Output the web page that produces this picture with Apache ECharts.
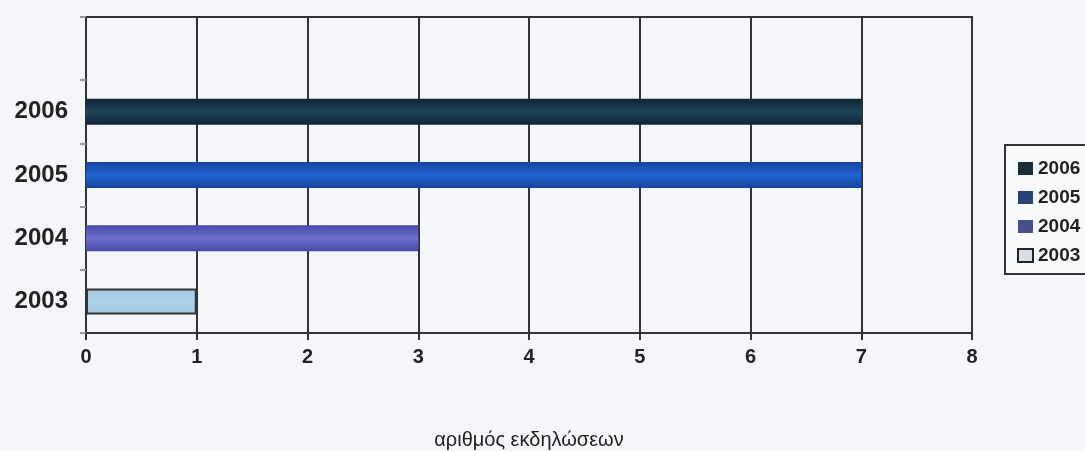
<!DOCTYPE html>
<html>
<head>
<meta charset="utf-8">
<script src="https://cdn.jsdelivr.net/npm/echarts@6/dist/echarts.min.js"></script>
<style>html,body{margin:0;padding:0;background:#f5f6f9;}#c{width:1085px;height:451px;}</style>
</head>
<body>
<div id="c"></div>
<script>
const categories = ['2003', '2004', '2005', '2006', ''];
const years = ['2006', '2005', '2004', '2003'];
const values = [7, 7, 3, 1];
const xTicks = [0, 1, 2, 3, 4, 5, 6, 7, 8];
const axisTitle = 'αριθμός εκδηλώσεων';

const barColors = {
  '2006': ['#0f2434', '#1f4459', '#0f2434'],
  '2005': ['#1544a0', '#2163cf', '#1544a0'],
  '2004': ['#4848a6', '#6e6ecf', '#4848a6'],
  '2003': ['#a4c8e2', '#aed2ea', '#a4c8e2']
};
const legendColors = {'2006': '#1a2b3a', '2005': '#2b4372', '2004': '#474f8c', '2003': '#d9dde5'};

function grad(c) {
  return new echarts.graphic.LinearGradient(0, 0, 0, 1, [
    {offset: 0, color: c[0]}, {offset: 0.5, color: c[1]}, {offset: 1, color: c[2]}
  ]);
}

const series = years.map((y, i) => {
  const data = categories.map(c => (c === y ? values[i] : '-'));
  return {
    name: y,
    type: 'bar',
    stack: 'all',
    barWidth: 26,
    data: data,
    itemStyle: {
      color: grad(barColors[y]),
      borderColor: y === '2003' ? '#333' : 'transparent',
      borderWidth: y === '2003' ? 2 : 0
    },
    emphasis: {disabled: true}
  };
});

const chart = echarts.init(document.getElementById('c'));
chart.setOption({
  backgroundColor: '#f5f6f9',
  animation: false,
  grid: {left: 86, right: 113, top: 17, bottom: 118, outerBoundsMode: 'none', containLabel: false, show: true, borderColor: '#333', borderWidth: 2, backgroundColor: 'transparent'},
  legend: {
    orient: 'vertical',
    left: 1005,
    top: 145,
    padding: [14, 30, 9, 12],
    itemGap: 10,
    itemWidth: 15,
    itemHeight: 13,
    borderColor: '#333',
    borderWidth: 2,
    backgroundColor: '#f8f9fb',
    textStyle: {fontFamily: 'Liberation Sans, Arial, sans-serif', fontWeight: 'bold', fontSize: 19, color: '#222'},
    data: years.map(y => ({
      name: y,
      icon: 'rect',
      itemStyle: {color: legendColors[y], borderColor: y === '2003' ? '#222' : legendColors[y], borderWidth: y === '2003' ? 2 : 0}
    }))
  },
  xAxis: {
    type: 'value',
    min: xTicks[0],
    max: xTicks[xTicks.length - 1],
    interval: 1,
    name: axisTitle,
    nameLocation: 'middle',
    nameGap: 97,
    nameTextStyle: {fontFamily: 'Liberation Sans, Arial, sans-serif', fontSize: 20, color: '#222'},
    axisLine: {show: true, lineStyle: {color: '#333', width: 2}},
    axisTick: {show: true, length: 7, lineStyle: {color: '#333', width: 2}},
    axisLabel: {fontFamily: 'Liberation Sans, Arial, sans-serif', fontWeight: 'bold', fontSize: 20, color: '#222', margin: 14},
    splitLine: {show: true, lineStyle: {color: '#333', width: 2}}
  },
  yAxis: {
    type: 'category',
    data: categories,
    axisLine: {show: true, lineStyle: {color: '#333', width: 2}},
    axisTick: {show: true, length: 6, lineStyle: {color: '#999', width: 2}},
    axisLabel: {fontFamily: 'Liberation Sans, Arial, sans-serif', fontWeight: 'bold', fontSize: 24, color: '#222', margin: 18},
    splitLine: {show: false}
  },
  series: series
});
</script>
</body>
</html>
